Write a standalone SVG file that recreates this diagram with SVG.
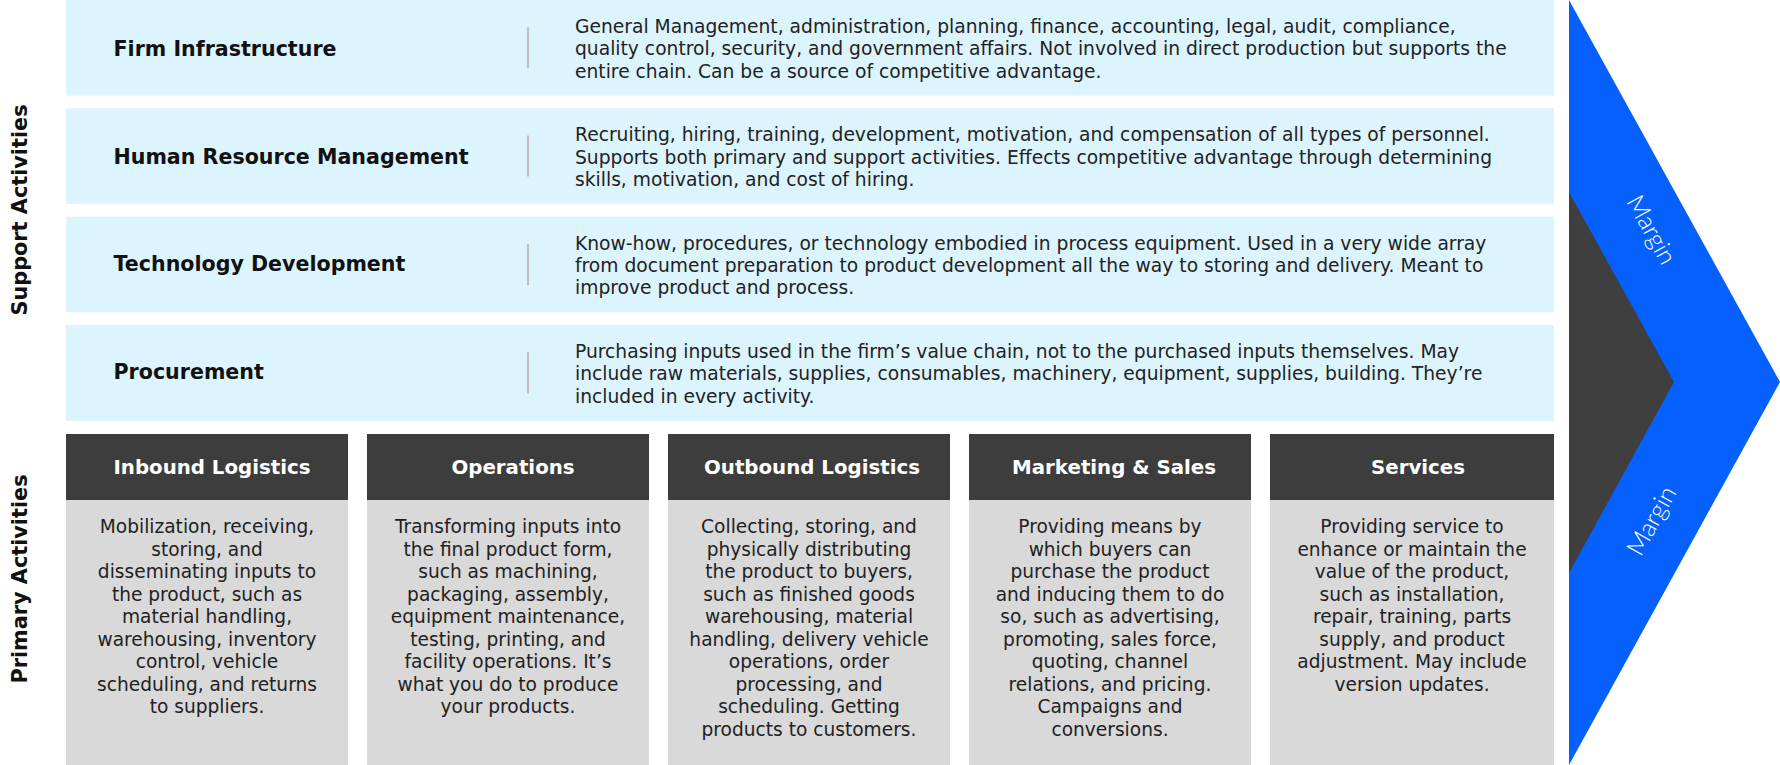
<svg xmlns="http://www.w3.org/2000/svg" width="1780" height="765" viewBox="0 0 1780 765">
<style>
.sup{fill:#DCF4FE}
.div{stroke:#BDBDBD;stroke-width:2}
.ttl{font-family:"DejaVu Sans","Liberation Sans",sans-serif;font-weight:bold;font-size:20.6px;fill:#111111}
.dsc{font-family:"DejaVu Sans","Liberation Sans",sans-serif;font-size:18.7px;fill:#222222}
.hdr{fill:#3D3D3D}
.bdy{fill:#D9D9D9}
.htx{font-family:"DejaVu Sans","Liberation Sans",sans-serif;font-weight:bold;font-size:19.8px;fill:#FFFFFF;text-anchor:middle}
.btx{font-family:"DejaVu Sans","Liberation Sans",sans-serif;font-size:18.6px;fill:#222222;text-anchor:middle}
.side{font-family:"DejaVu Sans","Liberation Sans",sans-serif;font-weight:bold;font-size:20.8px;fill:#111111;text-anchor:middle}
.mrg{font-family:"Lato","Open Sans",sans-serif;font-weight:300;font-size:25px;fill:#FFFFFF;text-anchor:middle}
</style>

<g id="label-support">
<text class="side" transform="translate(27,210) rotate(-90)">Support Activities</text>
</g>
<g id="label-primary">
<text class="side" transform="translate(27,579) rotate(-90)">Primary Activities</text>
</g>

<g id="firm-infrastructure">
<rect class="sup" x="66" y="0" width="1488" height="95.7"/>
<text class="ttl" x="113.5" y="55.5">Firm Infrastructure</text>
<line class="div" x1="528" y1="27.3" x2="528" y2="68.3"/>
<text class="dsc" x="575" y="33"><tspan x="575">General Management, administration, planning, finance, accounting, legal, audit, compliance,</tspan><tspan x="575" y="55.4">quality control, security, and government affairs. Not involved in direct production but supports the</tspan><tspan x="575" y="77.8">entire chain. Can be a source of competitive advantage.</tspan></text>
</g>

<g id="human-resource-management">
<rect class="sup" x="66" y="108.3" width="1488" height="95.7"/>
<text class="ttl" x="113.5" y="163.5">Human Resource Management</text>
<line class="div" x1="528" y1="135.6" x2="528" y2="176.6"/>
<text class="dsc" x="575" y="141.3"><tspan x="575">Recruiting, hiring, training, development, motivation, and compensation of all types of personnel.</tspan><tspan x="575" y="163.7">Supports both primary and support activities. Effects competitive advantage through determining</tspan><tspan x="575" y="186.1">skills, motivation, and cost of hiring.</tspan></text>
</g>

<g id="technology-development">
<rect class="sup" x="66" y="216.6" width="1488" height="95.7"/>
<text class="ttl" x="113.5" y="270.8">Technology Development</text>
<line class="div" x1="528" y1="243.9" x2="528" y2="284.9"/>
<text class="dsc" x="575" y="249.6"><tspan x="575">Know-how, procedures, or technology embodied in process equipment. Used in a very wide array</tspan><tspan x="575" y="272">from document preparation to product development all the way to storing and delivery. Meant to</tspan><tspan x="575" y="294.4">improve product and process.</tspan></text>
</g>

<g id="procurement">
<rect class="sup" x="66" y="325" width="1488" height="96"/>
<text class="ttl" x="113.5" y="378.8">Procurement</text>
<line class="div" x1="528" y1="352.3" x2="528" y2="393.3"/>
<text class="dsc" x="575" y="358"><tspan x="575">Purchasing inputs used in the firm’s value chain, not to the purchased inputs themselves. May</tspan><tspan x="575" y="380.4">include raw materials, supplies, consumables, machinery, equipment, supplies, building. They’re</tspan><tspan x="575" y="402.8">included in every activity.</tspan></text>
</g>

<g id="inbound-logistics">
<rect class="hdr" x="66" y="434" width="282" height="66"/>
<rect class="bdy" x="66" y="500" width="282" height="265"/>
<text class="htx" x="212" y="473.5">Inbound Logistics</text>
<text class="btx" y="533"><tspan x="207">Mobilization, receiving,</tspan><tspan x="207" y="555.5">storing, and</tspan><tspan x="207" y="578">disseminating inputs to</tspan><tspan x="207" y="600.5">the product, such as</tspan><tspan x="207" y="623">material handling,</tspan><tspan x="207" y="645.5">warehousing, inventory</tspan><tspan x="207" y="668">control, vehicle</tspan><tspan x="207" y="690.5">scheduling, and returns</tspan><tspan x="207" y="713">to suppliers.</tspan></text>
</g>

<g id="operations">
<rect class="hdr" x="367" y="434" width="282" height="66"/>
<rect class="bdy" x="367" y="500" width="282" height="265"/>
<text class="htx" x="513" y="473.5">Operations</text>
<text class="btx" y="533"><tspan x="508">Transforming inputs into</tspan><tspan x="508" y="555.5">the final product form,</tspan><tspan x="508" y="578">such as machining,</tspan><tspan x="508" y="600.5">packaging, assembly,</tspan><tspan x="508" y="623">equipment maintenance,</tspan><tspan x="508" y="645.5">testing, printing, and</tspan><tspan x="508" y="668">facility operations. It’s</tspan><tspan x="508" y="690.5">what you do to produce</tspan><tspan x="508" y="713">your products.</tspan></text>
</g>

<g id="outbound-logistics">
<rect class="hdr" x="668" y="434" width="282" height="66"/>
<rect class="bdy" x="668" y="500" width="282" height="265"/>
<text class="htx" x="812" y="473.5">Outbound Logistics</text>
<text class="btx" y="533"><tspan x="809">Collecting, storing, and</tspan><tspan x="809" y="555.5">physically distributing</tspan><tspan x="809" y="578">the product to buyers,</tspan><tspan x="809" y="600.5">such as finished goods</tspan><tspan x="809" y="623">warehousing, material</tspan><tspan x="809" y="645.5">handling, delivery vehicle</tspan><tspan x="809" y="668">operations, order</tspan><tspan x="809" y="690.5">processing, and</tspan><tspan x="809" y="713">scheduling. Getting</tspan><tspan x="809" y="735.5">products to customers.</tspan></text>
</g>

<g id="marketing-sales">
<rect class="hdr" x="969" y="434" width="282" height="66"/>
<rect class="bdy" x="969" y="500" width="282" height="265"/>
<text class="htx" x="1114" y="473.5">Marketing &amp; Sales</text>
<text class="btx" y="533"><tspan x="1110">Providing means by</tspan><tspan x="1110" y="555.5">which buyers can</tspan><tspan x="1110" y="578">purchase the product</tspan><tspan x="1110" y="600.5">and inducing them to do</tspan><tspan x="1110" y="623">so, such as advertising,</tspan><tspan x="1110" y="645.5">promoting, sales force,</tspan><tspan x="1110" y="668">quoting, channel</tspan><tspan x="1110" y="690.5">relations, and pricing.</tspan><tspan x="1110" y="713">Campaigns and</tspan><tspan x="1110" y="735.5">conversions.</tspan></text>
</g>

<g id="services">
<rect class="hdr" x="1270" y="434" width="284" height="66"/>
<rect class="bdy" x="1270" y="500" width="284" height="265"/>
<text class="htx" x="1418" y="473.5">Services</text>
<text class="btx" y="533"><tspan x="1412">Providing service to</tspan><tspan x="1412" y="555.5">enhance or maintain the</tspan><tspan x="1412" y="578">value of the product,</tspan><tspan x="1412" y="600.5">such as installation,</tspan><tspan x="1412" y="623">repair, training, parts</tspan><tspan x="1412" y="645.5">supply, and product</tspan><tspan x="1412" y="668">adjustment. May include</tspan><tspan x="1412" y="690.5">version updates.</tspan></text>
</g>

<g id="margin">
<polygon points="1569,0 1780,382 1569,765" fill="#0560FE"/>
<polygon points="1569,192 1674,382 1569,573" fill="#3F3F3F"/>
<text class="mrg" transform="translate(1651,230) rotate(61)" dy="8">Margin</text>
<text class="mrg" transform="translate(1652,521) rotate(-61)" dy="8">Margin</text>
</g>
</svg>
